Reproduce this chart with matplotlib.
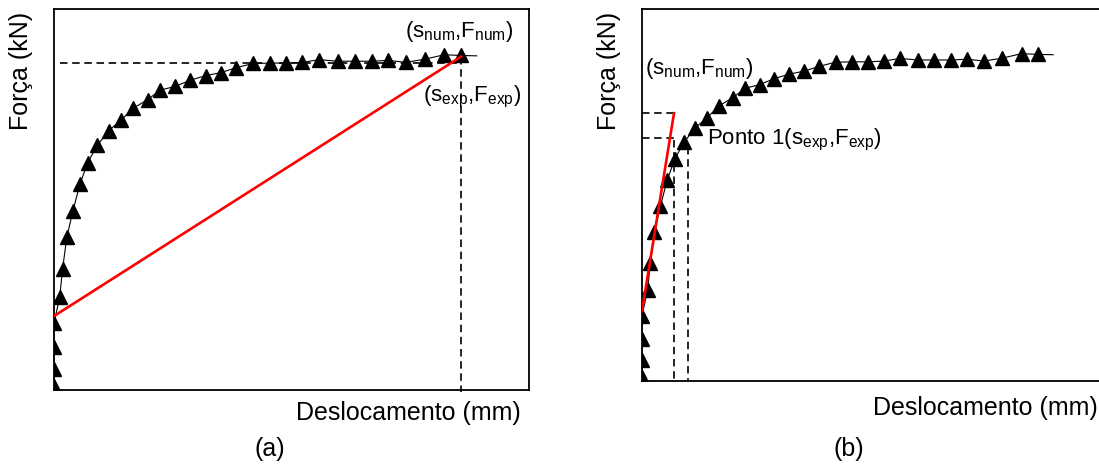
import matplotlib
matplotlib.use("Agg")
import matplotlib.pyplot as plt

plt.rcParams['font.family'] = ['Liberation Sans', 'DejaVu Sans']
plt.rcParams['mathtext.fontset'] = 'custom'
plt.rcParams['mathtext.rm'] = 'Liberation Sans'
plt.rcParams['mathtext.it'] = 'Liberation Sans:italic'

# Numerical force-displacement curve (marker points), displacement in mm, force in kN
desloc = [0, 0, 0, 0, 0.12, 0.18, 0.27, 0.40, 0.545, 0.71, 0.91, 1.155, 1.41, 1.66,
          1.97, 2.235, 2.555, 2.865, 3.19, 3.51, 3.84, 4.19, 4.545, 4.89, 5.23,
          5.585, 5.97, 6.33, 6.685, 7.04, 7.40, 7.80, 8.215, 8.57]
forca = [1.0, 5.6, 11.3, 17.5, 24.4, 31.7, 40.1, 47.1, 54.0, 59.7, 64.2, 68.1, 70.8,
         73.9, 76.2, 78.7, 79.7, 81.3, 82.5, 83.3, 84.6, 85.7, 85.8, 85.8, 86.0,
         86.7, 86.3, 86.3, 86.3, 86.5, 86.0, 86.8, 88.0, 87.8]
# end of the continuous numerical line
desloc_fim = 8.9
forca_fim = 87.7

# panel (a): secant line and reference point
sec_a_x = [0, 8.57]
sec_a_y = [19.4, 87.5]
ref_a_F = 85.8
ref_a_s = 8.57

# panel (b): initial stiffness line and Ponto 1
sec_b_x = [0, 0.693]
sec_b_y = [18.8, 72.0]
h1_F = 72.0
h2_F = 65.3
v1_s, v1_top = 0.693, 64.8
v2_s, v2_top = 0.996, 62.9

W, H = 1099, 466
fig = plt.figure(figsize=(W / 100, H / 100), dpi=100)

def fx(px):
    return px / W

def fy(py):
    return 1 - py / H

axA = fig.add_axes([fx(54), fy(390), 475 / W, 381 / H])
axB = fig.add_axes([fx(642), fy(381), 462 / W, 372 / H])

dash = (0, (4.5, 2.8))
ann_fs = 16
lab_fs = 18

for ax in (axA, axB):
    ax.set_xlim(0, 10)
    ax.set_ylim(0, 100)
    ax.set_xticks([])
    ax.set_yticks([])
    for s in ax.spines.values():
        s.set_linewidth(1.3)
        s.set_color('black')
    ax.plot(list(desloc) + [desloc_fim], list(forca) + [forca_fim],
            color='black', lw=0.8, zorder=3)
    ax.plot(desloc, forca, linestyle='none', marker='^', markersize=9.5,
            color='black', zorder=4)

# panel (a)
axA.plot(sec_a_x, sec_a_y, color='#ff0000', lw=1.9, zorder=5)
axA.plot([0.126, ref_a_s], [ref_a_F, ref_a_F], color='black', lw=1.2,
         linestyle=dash, zorder=2)
axA.plot([ref_a_s, ref_a_s], [sec_a_y[1], -0.6], color='black', lw=1.2,
         linestyle=dash, zorder=2, clip_on=False)
axA.text(7.39, 94.2, r'$\mathrm{(s_{num}{,}F_{num})}$', fontsize=ann_fs,
         ha='left', va='center')
axA.text(7.77, 76.9, r'$\mathrm{(s_{exp}{,}F_{exp})}$', fontsize=ann_fs,
         ha='left', va='center')

# panel (b)
axB.plot(sec_b_x, sec_b_y, color='#ff0000', lw=1.9, zorder=5)
axB.plot([0, sec_b_x[1]], [h1_F, h1_F], color='black', lw=1.2, linestyle=dash, zorder=2)
axB.plot([0, sec_b_x[1]], [h2_F, h2_F], color='black', lw=1.2, linestyle=dash, zorder=2)
axB.plot([v1_s, v1_s], [v1_top, 0], color='black', lw=1.2, linestyle=dash, zorder=2)
axB.plot([v2_s, v2_s], [v2_top, 0], color='black', lw=1.2, linestyle=dash, zorder=2)
axB.text(0.065, 83.9, r'$\mathrm{(s_{num}{,}F_{num})}$', fontsize=ann_fs,
         ha='left', va='center')
axB.text(1.41, 64.8, r'Ponto 1$\mathrm{(s_{exp}{,}F_{exp})}$', fontsize=ann_fs,
         ha='left', va='center')

# axis labels
fig.text(fx(521), fy(413), 'Deslocamento (mm)', fontsize=lab_fs, ha='right', va='center')
fig.text(fx(1098), fy(408), 'Deslocamento (mm)', fontsize=lab_fs, ha='right', va='center')
fig.text(fx(21), fy(12), 'Força (kN)', fontsize=lab_fs, rotation=90, ha='center', va='top')
fig.text(fx(609), fy(12), 'Força (kN)', fontsize=lab_fs, rotation=90, ha='center', va='top')
fig.text(fx(270), fy(449), '(a)', fontsize=lab_fs, ha='center', va='center')
fig.text(fx(849), fy(449), '(b)', fontsize=lab_fs, ha='center', va='center')

fig.savefig('out.png', dpi=100)
